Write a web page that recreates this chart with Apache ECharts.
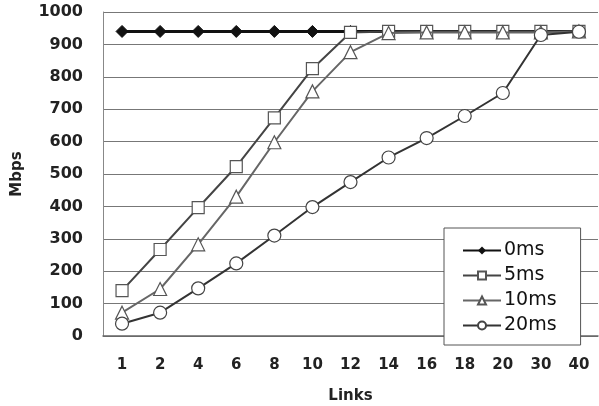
<!DOCTYPE html>
<html>
<head>
<meta charset="utf-8">
<script src="https://cdn.jsdelivr.net/npm/echarts@6/dist/echarts.min.js"></script>
<style>
  html, body { margin: 0; padding: 0; background: #fff; }
  #chart { width: 599px; height: 406px; }
</style>
</head>
<body>
<div id="chart"></div>
<script>
// links on the x axis
const links = ["1", "2", "4", "6", "8", "10", "12", "14", "16", "18", "20", "30", "40"];
const yTicks = [0, 100, 200, 300, 400, 500, 600, 700, 800, 900, 1000];

// throughput in Mbps per delay
const delay0 = [940, 940, 940, 940, 940, 940, 940, 940, 940, 940, 940, 940, 940];
const delay5 = [140, 267, 396, 523, 673, 825, 937, 940, 940, 940, 940, 940, 940];
const delay10 = [72, 145, 283, 430, 598, 755, 876, 935, 937, 937, 937, 937, 940];
const delay20 = [38, 72, 147, 224, 310, 398, 475, 551, 611, 679, 750, 929, 939];

const chart = echarts.init(document.getElementById("chart"));
const font = "DejaVu Sans";

const option = {
  animation: false,
  textStyle: { fontFamily: font },
  grid: { left: 103, right: 1, top: 12, bottom: 70, outerBoundsMode: "none", containLabel: false },
  legend: {
    orient: "vertical",
    left: 444,
    top: 228,
    padding: [13, 24, 10, 18],
    backgroundColor: "#fff",
    borderColor: "#555",
    borderWidth: 1,
    itemWidth: 38,
    itemHeight: 10,
    itemGap: 6,
    textStyle: { fontSize: 19, color: "#111", fontFamily: font, padding: [0, 0, 0, -2] },
    data: ["0ms", "5ms", "10ms", "20ms"]
  },
  xAxis: {
    type: "category",
    data: links,
    boundaryGap: true,
    name: "Links",
    nameLocation: "middle",
    nameGap: 53,
    nameTextStyle: { fontSize: 15, color: "#222", fontWeight: "bold" },
    axisLine: { lineStyle: { color: "#666", width: 1.5 } },
    axisTick: { inside: true, length: 7, lineStyle: { color: "#666" } },
    axisLabel: { fontSize: 15, color: "#222", margin: 22, fontWeight: "bold" }
  },
  yAxis: {
    type: "value",
    min: yTicks[0],
    max: yTicks[yTicks.length - 1],
    interval: 100,
    name: "Mbps",
    nameLocation: "middle",
    nameGap: 78,
    nameTextStyle: { fontSize: 15, color: "#222", fontWeight: "bold" },
    axisLine: { show: true, lineStyle: { color: "#888" } },
    axisTick: { show: false },
    axisLabel: {
      fontSize: 16, color: "#222", margin: 20, fontWeight: "bold",
      formatter: (v) => String(v)
    },
    splitLine: { lineStyle: { color: "#777", width: 1 } }
  },
  series: [
    {
      name: "0ms", type: "line", data: delay0,
      symbol: "diamond", symbolSize: 12,
      lineStyle: { color: "#111", width: 3 },
      itemStyle: { color: "#111", borderColor: "#111" },
      z: 2
    },
    {
      name: "5ms", type: "line", data: delay5,
      symbol: "rect", symbolSize: 12,
      lineStyle: { color: "#444", width: 2 },
      itemStyle: { color: "#fff", borderColor: "#555", borderWidth: 1.2 },
      z: 3
    },
    {
      name: "10ms", type: "line", data: delay10,
      symbol: "triangle", symbolSize: 13,
      lineStyle: { color: "#666", width: 2 },
      itemStyle: { color: "#fff", borderColor: "#555", borderWidth: 1.2 },
      z: 4
    },
    {
      name: "20ms", type: "line", data: delay20,
      symbol: "circle", symbolSize: 13,
      lineStyle: { color: "#333", width: 2 },
      itemStyle: { color: "#fff", borderColor: "#444", borderWidth: 1.2 },
      z: 5
    }
  ]
};

chart.setOption(option);
</script>
</body>
</html>
